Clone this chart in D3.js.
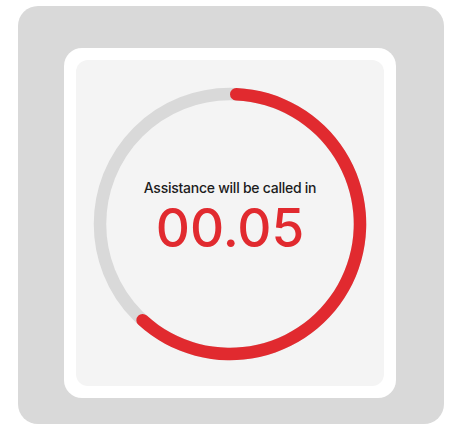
<!DOCTYPE html>
<html>
<head>
<meta charset="utf-8">
<script src="https://cdn.jsdelivr.net/npm/d3@7"></script>
<style>
  html, body { margin: 0; padding: 0; background: #fff; }
  svg { display: block; }
</style>
</head>
<body>
<div id="timer"></div>
<script>
// timer values
var labelText = "Assistance will be called in";
var timeText = "00.05";
var progress = [0.625];   // share of the ring that is red
var startOffset = 0.0;    // ring starts at 12 o'clock

var width = 452, height = 431;

var svg = d3.select("#timer")
    .append("svg")
    .attr("width", width)
    .attr("height", height)
    .attr("viewBox", `0 0 ${width} ${height}`);

// frames
svg.append("rect")
    .attr("x", 18).attr("y", 6)
    .attr("width", 426).attr("height", 418)
    .attr("rx", 20)
    .attr("fill", "#d9d9d9");

svg.append("rect")
    .attr("x", 64).attr("y", 48)
    .attr("width", 332).attr("height", 350)
    .attr("rx", 18)
    .attr("fill", "#ffffff");

svg.append("rect")
    .attr("x", 76).attr("y", 60)
    .attr("width", 308).attr("height", 326)
    .attr("rx", 12)
    .attr("fill", "#f4f4f4");

var cx = 230, cy = 224, r = 130, thick = 12.5;

var g = svg.append("g")
    .attr("transform", `translate(${cx} ${cy})`);

// angle scale: share of a lap -> radians
var angle = d3.scaleLinear().domain([0, 1]).range([0, 2 * Math.PI]);

var arc = d3.arc()
    .innerRadius(r - thick / 2)
    .outerRadius(r + thick / 2)
    .cornerRadius(thick / 2);

g.append("circle")
    .attr("r", r)
    .attr("fill", "none")
    .attr("stroke", "#d9d9d9")
    .attr("stroke-width", thick);

g.selectAll("path.progress")
    .data(progress)
    .enter().append("path")
    .attr("class", "progress")
    .attr("fill", "#e12a2f")
    .attr("d", function (d) {
        return arc({ startAngle: angle(startOffset), endAngle: angle(d) });
    });

g.append("text")
    .attr("x", 0)
    .attr("y", -31)
    .attr("text-anchor", "middle")
    .attr("font-family", "Inter, sans-serif")
    .attr("font-size", 14)
    .attr("font-weight", 500)
    .attr("letter-spacing", -0.25)
    .attr("fill", "#1c1c1c")
    .text(labelText);

g.append("text")
    .attr("x", 0)
    .attr("y", 23)
    .attr("text-anchor", "middle")
    .attr("font-family", "Inter, sans-serif")
    .attr("font-size", 53)
    .attr("font-weight", 500)
    .attr("fill", "#e12a2f")
    .text(timeText);
</script>
</body>
</html>
